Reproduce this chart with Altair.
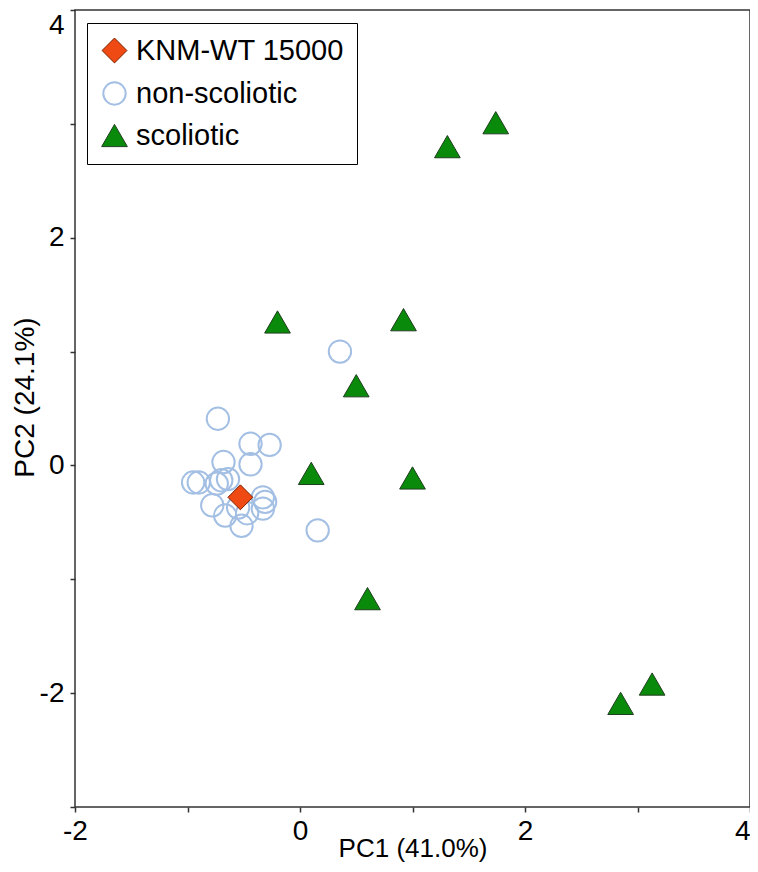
import altair as alt
import pandas as pd

groups = ["KNM-WT 15000", "non-scoliotic", "scoliotic"]

nonsco_pc1 = [-0.73, 0.355, 0.157, -0.44, -0.27, -0.68, -0.44, -0.90, -0.95, -0.70,
              -0.64, -0.74, -0.33, -0.31, -0.33, -0.78, -0.665, -0.52, -0.55, -0.47]
nonsco_pc2 = [0.41, 1.00, -0.57, 0.19, 0.18, 0.03, 0.01, -0.15, -0.15, -0.13,
              -0.12, -0.16, -0.28, -0.32, -0.38, -0.35, -0.44, -0.53, -0.37, -0.42]

sco_pc1 = [1.74, 1.31, -0.20, 0.92, 0.50, 0.10, 1.00, 0.60, 2.85, 3.13]
sco_pc2 = [3.01, 2.80, 1.26, 1.28, 0.70, -0.07, -0.11, -1.17, -2.09, -1.92]

knm_pc1 = [-0.53]
knm_pc2 = [-0.28]

x_ticks = [-2, -1, 0, 1, 2, 3, 4]
y_ticks = [-3, -2, -1, 0, 1, 2, 3, 4]

rows = []
for a, b in zip(nonsco_pc1, nonsco_pc2):
    rows.append({"PC1": a, "PC2": b, "group": "non-scoliotic"})
for a, b in zip(sco_pc1, sco_pc2):
    rows.append({"PC1": a, "PC2": b, "group": "scoliotic"})
for a, b in zip(knm_pc1, knm_pc2):
    rows.append({"PC1": a, "PC2": b, "group": "KNM-WT 15000"})
df = pd.DataFrame(rows)

FONT = "Liberation Sans"
AX = "#333333"

leg = alt.Legend(
    title=None, orient="none", legendX=12, legendY=13, padding=13,
    strokeColor="black", fillColor="white", cornerRadius=0,
    labelFontSize=29, labelFont=FONT, labelColor="black", labelLimit=0,
    symbolOpacity=1, rowPadding=12, labelOffset=7,
)

label_expr = "datum.value % 2 == 0 ? toString(datum.value) : ''"

chart = alt.Chart(df).mark_point(opacity=1).encode(
    x=alt.X("PC1:Q", scale=alt.Scale(domain=[-2, 4], nice=False, zero=False),
            axis=alt.Axis(values=x_ticks, labelExpr=label_expr, grid=False, domain=False,
                          tickSize=5, tickColor=AX, tickWidth=1.5,
                          labelFontSize=28, labelFont=FONT, labelColor="black",
                          labelPadding=5, labelFlush=False, labelOverlap=False, labelBound=False,
                          labelAlign={"condition": {"test": "datum.value == 4", "value": "right"}, "value": "center"},
                          title="PC1 (41.0%)", titleFontSize=26, titleFont=FONT,
                          titleFontWeight="normal", titleColor="black",
                          titleY=49, titleBaseline="alphabetic")),
    y=alt.Y("PC2:Q", scale=alt.Scale(domain=[-3, 4], nice=False, zero=False),
            axis=alt.Axis(values=y_ticks, labelExpr=label_expr, grid=False, domain=False,
                          tickSize=5, tickColor=AX, tickWidth=1.5,
                          labelFontSize=28, labelFont=FONT, labelColor="black",
                          labelPadding=6, labelFlush=False, labelOverlap=False, labelBound=False,
                          labelOffset={"condition": {"test": "datum.value == 4", "value": 15}, "value": 0},
                          title="PC2 (24.1%)", titleFontSize=28, titleFont=FONT,
                          titleFontWeight="normal", titleColor="black",
                          titleX=-42, titleY=387, titleBaseline="alphabetic")),
    shape=alt.Shape("group:N", scale=alt.Scale(domain=groups, range=["diamond", "circle", "triangle-up"]), legend=leg),
    fill=alt.Fill("group:N", scale=alt.Scale(domain=groups, range=["#f04a14", "transparent", "#0a8a0a"]), legend=leg),
    stroke=alt.Stroke("group:N", scale=alt.Scale(domain=groups, range=["#7a2000", "#a3bfe3", "#1f3f1f"]), legend=leg),
    size=alt.Size("group:N", scale=alt.Scale(type="ordinal", domain=groups, range=[620, 500, 660]), legend=leg),
    strokeWidth=alt.StrokeWidth("group:N", scale=alt.Scale(type="ordinal", domain=groups, range=[1, 2, 1]), legend=leg),
).properties(
    width=675, height=797,
    padding={"left": 67, "top": 2, "right": 0, "bottom": 57},
    autosize=alt.AutoSizeParams(type="none"),
).configure_view(stroke=AX, strokeWidth=1.5)

chart.save("out.html", embed_options={"renderer": "svg", "actions": False})
